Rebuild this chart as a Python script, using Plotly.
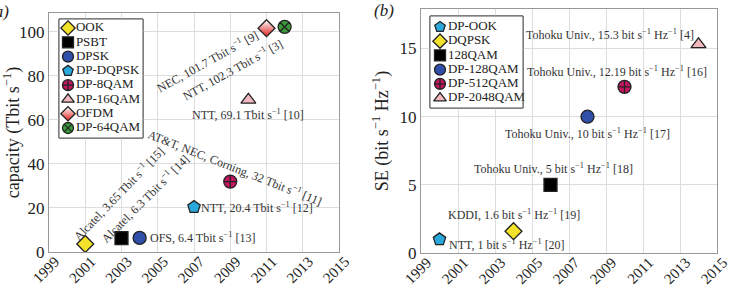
import plotly.graph_objects as go

# ---- panel (a): capacity ----
cap_names = ["OOK", "PSBT", "DPSK", "DP-DQPSK", "DP-8QAM", "DP-16QAM", "OFDM", "DP-64QAM"]
cap_years = [2001, 2003, 2004, 2007, 2009, 2010, 2011, 2012]
cap_values = [3.65, 6.3, 6.4, 20.4, 32, 69.1, 101.7, 102.3]

# ---- panel (b): spectral efficiency ----
se_names = ["DP-OOK", "DQPSK", "128QAM", "DP-128QAM", "DP-512QAM", "DP-2048QAM"]
se_years = [2000, 2004, 2006, 2008, 2010, 2014]
se_values = [1, 1.6, 5, 10, 12.19, 15.3]

year_ticks = [1999, 2001, 2003, 2005, 2007, 2009, 2011, 2013, 2015]

styles = {
    "OOK": dict(symbol="diamond", color="#f3e22b"),
    "DQPSK": dict(symbol="diamond", color="#f3e22b"),
    "PSBT": dict(symbol="square", color="#000000"),
    "128QAM": dict(symbol="square", color="#000000"),
    "DPSK": dict(symbol="circle", color="#2f4fa8"),
    "DP-128QAM": dict(symbol="circle", color="#2f4fa8"),
    "DP-DQPSK": dict(symbol="pentagon", color="#2aa8dc"),
    "DP-OOK": dict(symbol="pentagon", color="#2aa8dc"),
    "DP-8QAM": dict(symbol="circle-cross", color="#c2175e"),
    "DP-512QAM": dict(symbol="circle-cross", color="#c2175e"),
    "DP-16QAM": dict(symbol="triangle-up", color="#f2b8c0"),
    "DP-2048QAM": dict(symbol="triangle-up", color="#f2b8c0"),
    "OFDM": dict(symbol="diamond", color="#ffffff", gradient=dict(type="vertical", color="#e02020")),
    "DP-64QAM": dict(symbol="circle-x", color="#3b9a3b"),
}

FONT = "Liberation Serif"
W, H = 729, 292
fig = go.Figure()


def marker(name, size):
    st = styles[name]
    mk = dict(symbol=st["symbol"], color=st["color"], size=size,
              line=dict(color="#222222", width=1.3))
    if "gradient" in st:
        mk["gradient"] = st["gradient"]
    return mk


for n, x, y in zip(cap_names, cap_years, cap_values):
    fig.add_trace(go.Scatter(x=[x], y=[y], mode="markers", name=n, marker=marker(n, 13),
                             xaxis="x", yaxis="y", showlegend=False))
for n, x, y in zip(se_names, se_years, se_values):
    fig.add_trace(go.Scatter(x=[x], y=[y], mode="markers", name=n, marker=marker(n, 13),
                             xaxis="x2", yaxis="y2", showlegend=False))

# legend panels drawn as small helper subplots (one row per series)
for names, xa, ya in [(cap_names, "x3", "y3"), (se_names, "x4", "y4")]:
    for i, n in enumerate(names):
        fig.add_trace(go.Scatter(x=[0], y=[i], mode="markers+text", text=[n],
                                 textposition="middle right",
                                 textfont=dict(family=FONT, size=13, color="#222222"),
                                 marker=marker(n, 11), xaxis=xa, yaxis=ya, showlegend=False,
                                 cliponaxis=False, hoverinfo="skip"))

axis_common = dict(showgrid=True, gridcolor="#dddddd", gridwidth=1,
                   showline=True, linecolor="#999999", linewidth=1, mirror=True,
                   zeroline=False, ticks="", automargin=False)
xtick = dict(tickangle=-45, tickfont=dict(family=FONT, size=15, color="#222222"),
             ticklabelshift=6, ticklabelstandoff=-6, ticklabeloverflow="allow")
ytick = dict(tickfont=dict(family=FONT, size=17, color="#222222"))
legend_axis = dict(showgrid=False, zeroline=False, showticklabels=False, ticks="",
                   showline=False, fixedrange=True, automargin=False)


def px_dom(a, b):
    return [a / W, b / W]


def py_dom(top, bottom):
    return [1 - bottom / H, 1 - top / H]


fig.update_layout(
    width=W, height=H, margin=dict(l=0, r=0, t=0, b=0),
    paper_bgcolor="white", plot_bgcolor="white",
    font=dict(family=FONT, color="#222222"),
    showlegend=False,
    xaxis=dict(domain=px_dom(49, 339), range=[1999, 2015], tickvals=year_ticks,
               anchor="y", **axis_common, **xtick),
    yaxis=dict(domain=py_dom(13, 252), range=[0, 108.6], tickvals=[0, 20, 40, 60, 80, 100],
               anchor="x",
               title=dict(text="capacity (Tbit s<sup>−1</sup>)", font=dict(family=FONT, size=18), standoff=6),
               **axis_common, **ytick),
    xaxis2=dict(domain=px_dom(421, 717), range=[1999, 2015], tickvals=year_ticks,
                anchor="y2", **axis_common, **xtick),
    yaxis2=dict(domain=py_dom(9, 253), range=[0, 17.9], tickvals=[0, 5, 10, 15],
                anchor="x2",
                title=dict(text="SE (bit s<sup>−1</sup> Hz<sup>−1</sup>)", font=dict(family=FONT, size=18), standoff=6),
                **axis_common, **ytick),
    xaxis3=dict(domain=px_dom(59, 143), range=[-9, 75], anchor="y3", **legend_axis),
    yaxis3=dict(domain=py_dom(19, 138), range=[7.7, -0.63], anchor="x3", **legend_axis),
    xaxis4=dict(domain=px_dom(430, 523), range=[-10, 83], anchor="y4", **legend_axis),
    yaxis4=dict(domain=py_dom(16, 108), range=[5.7, -0.77], anchor="x4", **legend_axis),
)

# legend panel backgrounds and frames
for xa, ya in [("x3", "y3"), ("x4", "y4")]:
    fig.add_shape(type="rect", xref=f"{xa} domain", yref=f"{ya} domain", x0=0, x1=1, y0=0, y1=1,
                  fillcolor="white", line=dict(color="#555555", width=1), layer="below")
    fig.add_shape(type="rect", xref=f"{xa} domain", yref=f"{ya} domain", x0=0, x1=1, y0=0, y1=1,
                  fillcolor="rgba(0,0,0,0)", line=dict(color="#555555", width=1), layer="above")


def ann(text, x, y, xref, yref, angle=0, xanchor="center", size=12):
    fig.add_annotation(text=text, x=x, y=y, xref=xref, yref=yref, showarrow=False,
                       textangle=angle, xanchor=xanchor, yanchor="middle",
                       font=dict(family=FONT, size=size, color="#333333"))


S = "s<sup>−1</sup>"
ann(f"Alcatel, 3.65 Tbit {S} [15]", 2002.86, 26.4, "x", "y", -46)
ann(f"Alcatel, 6.3 Tbit {S} [14]", 2004.3, 24.3, "x", "y", -45)
ann(f"NEC, 101.7 Tbit {S} [9]", 2007.72, 86.4, "x", "y", -29)
ann(f"NTT, 102.3 Tbit {S} [3]", 2009.15, 82.7, "x", "y", -29)
ann(f"AT&T, NEC, Corning, 32 Tbit {S} [11]", 2009.26, 38.2, "x", "y", 21.5)
ann(f"NTT, 69.1 Tbit {S} [10]", 2009.98, 62.3, "x", "y")
ann(f"NTT, 20.4 Tbit {S} [12]", 2007.3, 20.4, "x", "y", xanchor="left")
ann(f"OFS, 6.4 Tbit {S} [13]", 2004.45, 6.4, "x", "y", xanchor="left")

HZ = "Hz<sup>−1</sup>"
ann(f"Tohoku Univ., 15.3 bit {S} {HZ} [4]", 2009.2, 16.0, "x2", "y2")
ann(f"Tohoku Univ., 12.19 bit {S} {HZ} [16]", 2009.6, 13.3, "x2", "y2")
ann(f"Tohoku Univ., 10 bit {S} {HZ} [17]", 2008.0, 8.8, "x2", "y2")
ann(f"Tohoku Univ., 5 bit {S} {HZ} [18]", 2006.14, 6.2, "x2", "y2")
ann(f"KDDI, 1.6 bit {S} {HZ} [19]", 2004.03, 2.8, "x2", "y2")
ann(f"NTT, 1 bit {S} {HZ} [20]", 2000.4, 0.66, "x2", "y2", xanchor="left")

fig.add_annotation(text="<i>(a)</i>", x=11 / W, y=1 - 11 / H, xref="paper", yref="paper",
                   xanchor="right", yanchor="middle", showarrow=False,
                   font=dict(family=FONT, size=17, color="#222222"))
fig.add_annotation(text="<i>(b)</i>", x=372 / W, y=1 - 10 / H, xref="paper", yref="paper",
                   xanchor="left", yanchor="middle", showarrow=False,
                   font=dict(family=FONT, size=17, color="#222222"))

fig.write_html("out.html")
